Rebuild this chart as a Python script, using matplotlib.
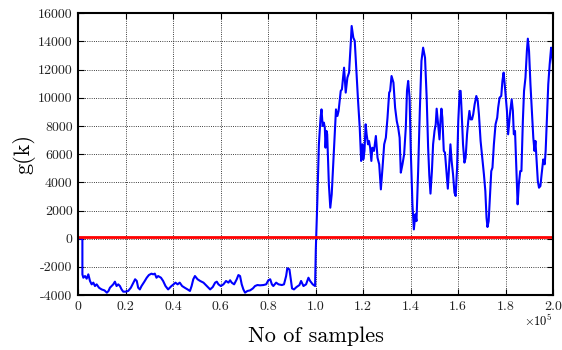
import numpy as np
import matplotlib
matplotlib.use("Agg")
import matplotlib.pyplot as plt
from matplotlib.ticker import FixedLocator, FixedFormatter, FuncFormatter

plt.rcParams['font.family'] = ['cmr10', 'DejaVu Serif']
plt.rcParams['mathtext.fontset'] = 'cm'
plt.rcParams['axes.formatter.use_mathtext'] = True

# sample positions (in units of 1e5 samples) and g(k) values
samples_e5 = [
    0.000, 0.018, 0.018, 0.022, 0.029, 0.036, 0.043, 0.050, 0.057, 0.064, 0.071, 0.078, 0.088,
    0.099, 0.111, 0.121, 0.128, 0.134, 0.141, 0.148, 0.155, 0.162, 0.169, 0.176, 0.183,
    0.190, 0.200, 0.211, 0.222, 0.233, 0.240, 0.247, 0.253, 0.260, 0.267, 0.279, 0.289,
    0.298, 0.309, 0.316, 0.323, 0.330, 0.337, 0.349, 0.358, 0.368, 0.379, 0.386, 0.393,
    0.402, 0.410, 0.419, 0.428, 0.438, 0.449, 0.461, 0.471, 0.478, 0.485, 0.492, 0.503,
    0.514, 0.528, 0.542, 0.556, 0.567, 0.577, 0.584, 0.591, 0.601, 0.612, 0.623, 0.633,
    0.640, 0.647, 0.657, 0.668, 0.675, 0.682, 0.689, 0.696, 0.703, 0.713, 0.724, 0.736,
    0.745, 0.755, 0.766, 0.780, 0.792, 0.801, 0.809, 0.816, 0.822, 0.834, 0.844, 0.858,
    0.867, 0.876, 0.881, 0.890, 0.895, 0.901, 0.909, 0.920, 0.932, 0.939, 0.949, 0.960,
    0.970, 0.977, 0.988, 0.998,
    1.001, 1.007, 1.014, 1.021, 1.025, 1.030, 1.035, 1.039, 1.042, 1.046, 1.049, 1.056,
    1.062, 1.068, 1.077, 1.086, 1.092, 1.097, 1.106, 1.111, 1.120, 1.127, 1.134, 1.141,
    1.148, 1.152, 1.159, 1.165, 1.172, 1.179, 1.186, 1.192, 1.197, 1.201, 1.206, 1.211,
    1.215, 1.221, 1.225, 1.230, 1.235, 1.239, 1.246, 1.254, 1.261, 1.268, 1.275, 1.282,
    1.289, 1.296, 1.303, 1.310, 1.314, 1.320, 1.328, 1.335, 1.342, 1.348, 1.354, 1.359,
    1.366, 1.373, 1.380, 1.385, 1.390, 1.396, 1.401, 1.408, 1.414, 1.420, 1.425, 1.432,
    1.439, 1.446, 1.453, 1.461, 1.468, 1.474, 1.479, 1.484, 1.490, 1.495, 1.501, 1.506,
    1.510, 1.516, 1.522, 1.526, 1.530, 1.534, 1.540, 1.545, 1.551, 1.557, 1.562, 1.568,
    1.573, 1.579, 1.585, 1.590, 1.596, 1.601, 1.607, 1.611, 1.615, 1.621, 1.627, 1.632,
    1.638, 1.643, 1.648, 1.653, 1.659, 1.664, 1.670, 1.677, 1.683, 1.688, 1.695, 1.702,
    1.709, 1.715, 1.720, 1.724, 1.729, 1.734, 1.740, 1.745, 1.751, 1.758, 1.765, 1.769,
    1.775, 1.782, 1.787, 1.792, 1.796, 1.800, 1.806, 1.811, 1.816, 1.820, 1.826, 1.831,
    1.835, 1.840, 1.845, 1.851, 1.856, 1.862, 1.867, 1.873, 1.878, 1.884, 1.890, 1.894,
    1.899, 1.905, 1.912, 1.917, 1.922, 1.926, 1.930, 1.936, 1.941, 1.947, 1.952, 1.959,
    1.965, 1.969, 1.975, 1.980, 1.986, 1.992, 1.996, 2.000,
]
g_values = [
    0, 0, -2530, -2770, -2650, -2840, -2530, -3000, -3240, -3120, -3360, -3240, -3480,
    -3600, -3670, -3830, -3710, -3480, -3360, -3240, -3050, -3360, -3240, -3360, -3600,
    -3760, -3760, -3710, -3480, -3120, -2880, -3000, -3480, -3600, -3360, -3050, -2770,
    -2580, -2480, -2530, -2480, -2770, -2650, -2770, -3000, -3360, -3600, -3480, -3360,
    -3240, -3120, -3240, -3120, -3360, -3480, -3600, -3710, -3360, -2880, -2650, -2880,
    -3000, -3120, -3360, -3600, -3430, -3120, -3050, -3240, -3360, -3240, -3000, -3120,
    -2950, -3120, -3240, -2880, -2580, -2650, -3240, -3600, -3830, -3710, -3670, -3530,
    -3360, -3290, -3310, -3290, -3240, -2950, -2880, -3240, -3360, -3120, -3240, -3290,
    -3240, -2650, -2100, -2180, -2770, -3530, -3600, -3430, -3290, -3000, -3360, -3240,
    -2770, -3000, -3240, -3360,
    -800, 2440, 6700, 8590, 9180, 8000, 8240, 7880, 6460, 7650, 7410, 3860,
    2200, 3150, 6230, 9180, 8710, 9070, 10490, 10600, 12140, 10370, 11430, 11790,
    13800, 15100, 14270, 14040, 11900, 9780, 7880, 5520, 6700, 5630, 6230, 8120,
    7410, 6700, 6940, 6460, 5520, 6460, 6230, 7290, 5750, 5280, 3500, 5040,
    6700, 7170, 8590, 10370, 10490, 11550, 11080, 9300, 8350, 7880, 7170, 4690,
    5280, 5990, 7880, 10490, 11200, 10010, 6230, 2440, 660, 1730, 1250, 4800,
    9070, 12620, 13560, 12850, 10000, 6500, 4500, 3200, 4800, 6700, 7650, 8120,
    9230, 8120, 7050, 8350, 9230, 8590, 6230, 6110, 4800, 3550, 5040, 6700,
    5520, 4570, 3270, 3030, 5040, 8350, 10490, 10490, 9070, 6700, 5400, 5750,
    7410, 8350, 9070, 8470, 8470, 8830, 9540, 10130, 9780, 8830, 6940, 5750,
    4570, 3380, 1490, 830, 1250, 2910, 4800, 5040, 6700, 8120, 8590, 9300,
    10010, 10130, 11200, 11790, 11080, 10250, 9070, 7410, 8350, 9070, 9890, 9070,
    7410, 7650, 5280, 2440, 3860, 4800, 4800, 8350, 10490, 11430, 13330, 14200,
    13330, 10960, 8830, 7170, 6230, 6940, 5750, 4100, 3620, 3740, 4570, 5630,
    5280, 6230, 8830, 10960, 12380, 13560, 13090, 12380,
]
threshold = 100

x_ticks = [0, 20000, 40000, 60000, 80000, 100000, 120000, 140000, 160000, 180000, 200000]
x_tick_labels = ["0", "0.2", "0.4", "0.6", "0.8", "1.0", "1.2", "1.4", "1.6", "1.8", "2.0"]
y_ticks = [-4000, -2000, 0, 2000, 4000, 6000, 8000, 10000, 12000, 14000, 16000]

fig = plt.figure(figsize=(5.62, 3.5), dpi=100)
ax = fig.add_axes([0.139, 0.157, 0.845, 0.805])

x = np.array(samples_e5) * 1e5
ax.plot(x, g_values, color='#0000ff', lw=1.5)
ax.axhline(threshold, color='#ff0000', lw=2)

ax.set_xlim(0, 200000)
ax.set_ylim(-4000, 16000)
ax.xaxis.set_major_locator(FixedLocator(x_ticks))
ax.xaxis.set_major_formatter(FixedFormatter(x_tick_labels))
ax.yaxis.set_major_locator(FixedLocator(y_ticks))
ax.yaxis.set_major_formatter(FuncFormatter(lambda v, p: '%d' % v))

ax.grid(True, color='black', linestyle=':', linewidth=0.6)
ax.tick_params(direction='in', top=True, right=True, length=4, width=0.8,
               labelsize=10, pad=4, labelcolor='#222222')
for s in ax.spines.values():
    s.set_linewidth(1.5)

ax.set_xlabel('No of samples', fontsize=16, labelpad=10)
ax.set_ylabel('g(k)', fontsize=16, labelpad=2)
ax.text(1.0, -0.092, r'$\times 10^{5}$', transform=ax.transAxes, ha='right',
        va='center', fontsize=9)

fig.savefig('out.png', dpi=100)
